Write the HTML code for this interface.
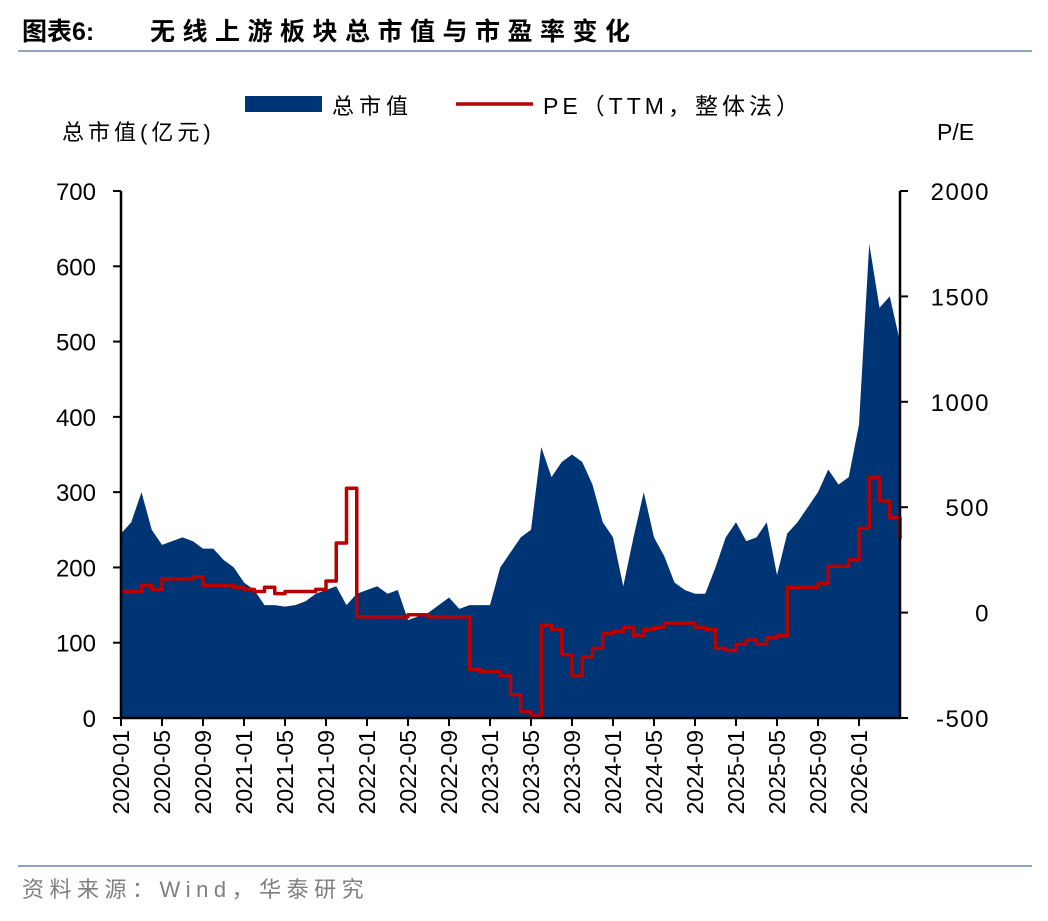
<!DOCTYPE html>
<html><head><meta charset="utf-8"><style>
body{margin:0;background:#fff;}
svg text{font-family:"Liberation Sans","Noto Sans CJK SC",sans-serif;}
</style></head><body>
<svg id="c" width="1048" height="916">
<text x="22" y="40" font-size="25" font-weight="bold" fill="#000">图表6:</text>
<text x="150" y="40" font-size="25" font-weight="bold" fill="#000" letter-spacing="7.5">无线上游板块总市值与市盈率变化</text>
<line x1="18" y1="51" x2="1032" y2="51" stroke="#8fa3bd" stroke-width="2"/>
<g>
<rect x="245" y="96" width="77" height="16" fill="#003575"/>
<text x="332" y="114" font-size="22" letter-spacing="5">总市值</text>
<line x1="456" y1="104" x2="533" y2="104" stroke="#b80000" stroke-width="3.5"/>
<text x="543" y="114" font-size="23" letter-spacing="4">PE（TTM，整体法）</text>
</g>
<text x="62" y="140" font-size="22" letter-spacing="4">总市值(亿元)</text>
<text x="937" y="140" font-size="23">P/E</text>
<g id="plot"></g>
<line x1="18" y1="866" x2="1032" y2="866" stroke="#8fa3bd" stroke-width="2"/>
<text x="22" y="897" font-size="22" fill="#7f7f7f" letter-spacing="5.5">资料来源：Wind，华泰研究</text>
</svg>
<script>
const months = 77;
const capValues = [245,260,300,250,230,235,240,235,225,225,210,200,180,170,150,150,148,150,155,165,170,175,150,165,170,175,165,170,130,135,140,150,160,145,150,150,150,200,220,240,250,360,320,340,350,340,310,260,240,175,240,300,240,215,180,170,165,165,200,240,260,235,240,260,190,245,260,280,300,330,310,320,390,630,545,560,500];
const peValues = [100,100,130,110,160,160,160,170,130,130,130,120,110,100,120,90,100,100,100,110,150,330,590,-20,-20,-20,-20,-20,-10,-10,-20,-20,-20,-20,-270,-280,-280,-300,-390,-470,-490,-60,-80,-200,-300,-210,-170,-100,-90,-70,-110,-80,-70,-50,-50,-50,-70,-80,-170,-180,-150,-130,-150,-120,-110,120,120,120,140,220,220,250,400,640,530,450,350];
const leftTicks = [0,100,200,300,400,500,600,700];
const rightTicks = [-500,0,500,1000,1500,2000];
const xLabels = ["2020-01","2020-05","2020-09","2021-01","2021-05","2021-09","2022-01","2022-05","2022-09","2023-01","2023-05","2023-09","2024-01","2024-05","2024-09","2025-01","2025-05","2025-09","2026-01"];

const X0=121,X1=900,YB=718,YT=191;
const x = i => X0 + i*(X1-X0)/(months-1);
const yL = v => YB - v*(YB-YT)/700;
const yR = v => YB - (v+500)*(YB-YT)/2500;
const ns="http://www.w3.org/2000/svg", g=document.getElementById('plot');
function mk(t,a){const e=document.createElementNS(ns,t);for(const k in a)e.setAttribute(k,a[k]);g.appendChild(e);return e;}

let d=`M${x(0)},${YB}`;
capValues.forEach((v,i)=>{d+=` L${x(i)},${yL(v)}`;});
d+=` L${x(capValues.length-1)},${YB} Z`;
const area=mk('path',{d,fill:'#003575'});



let p='';
peValues.forEach((v,i)=>{p+= i ? ` H${x(i)} V${yR(v)}` : `M${x(0)},${yR(v)}`;});
const line=mk('path',{d:p,fill:'none',stroke:'#b80000','stroke-width':3.5,'stroke-linejoin':'round'});



const ax=mk('path',{d:`M${X0},${YT} V${YB} H${X1} V${YT}`,fill:'none',stroke:'#000','stroke-width':2.5});



leftTicks.forEach(v=>{
  const t=mk('line',{x1:X0-8,x2:X0,y1:yL(v),y2:yL(v),stroke:'#000','stroke-width':2});
  
  
  const l=mk('text',{x:X0-25,y:yL(v)+9,'font-size':24,'text-anchor':'end'});l.textContent=v;
  
  
});
rightTicks.forEach(v=>{
  const t=mk('line',{x1:X1,x2:X1+8,y1:yR(v),y2:yR(v),stroke:'#000','stroke-width':2});
  
  
  const l=mk('text',{x:990,y:yR(v)+9,'font-size':24,'text-anchor':'end','letter-spacing':'1.5'});l.textContent=v;
  
  
});
xLabels.forEach((s,k)=>{
  const xi=x(k*4);
  const t=mk('line',{x1:xi,x2:xi,y1:YB,y2:YB+8,stroke:'#000','stroke-width':2});
  
  
  const l=mk('text',{x:0,y:0,'font-size':23,'text-anchor':'end',transform:`translate(${xi+8},${YB+12}) rotate(-90)`});l.textContent=s;
  
  
});
</script>
</body></html>
